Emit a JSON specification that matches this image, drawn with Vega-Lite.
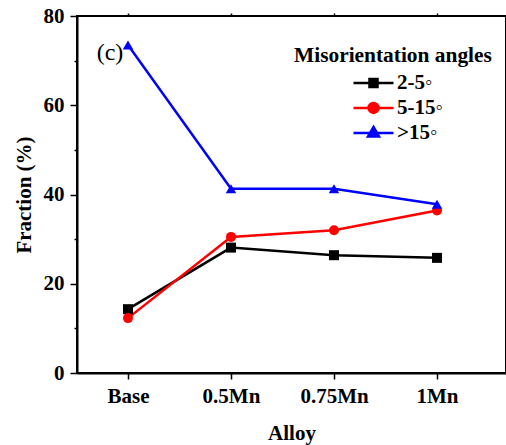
{
  "$schema": "https://vega.github.io/schema/vega-lite/v6.json",
  "width": 429,
  "height": 357,
  "autosize": {"type": "none"},
  "padding": {"left": 77, "top": 16, "right": 0, "bottom": 72},
  "background": "white",
  "config": {
    "font": "Liberation Serif",
    "view": {"stroke": "black", "strokeWidth": 2}
  },
  "datasets": {
    "fractions": [
      {"alloy": "Base", "angle": "2-5◦", "fraction": 14.3},
      {"alloy": "0.5Mn", "angle": "2-5◦", "fraction": 28.1},
      {"alloy": "0.75Mn", "angle": "2-5◦", "fraction": 26.4},
      {"alloy": "1Mn", "angle": "2-5◦", "fraction": 25.8},
      {"alloy": "Base", "angle": "5-15◦", "fraction": 12.3},
      {"alloy": "0.5Mn", "angle": "5-15◦", "fraction": 30.5},
      {"alloy": "0.75Mn", "angle": "5-15◦", "fraction": 32.0},
      {"alloy": "1Mn", "angle": "5-15◦", "fraction": 36.4},
      {"alloy": "Base", "angle": ">15◦", "fraction": 73.5},
      {"alloy": "0.5Mn", "angle": ">15◦", "fraction": 41.3},
      {"alloy": "0.75Mn", "angle": ">15◦", "fraction": 41.3},
      {"alloy": "1Mn", "angle": ">15◦", "fraction": 37.8}
    ],
    "panel": [
      {"alloy": "Base", "fraction": 71.7, "tag": "(c)"}
    ]
  },
  "data": {"name": "fractions"},
  "encoding": {
    "x": {
      "field": "alloy",
      "type": "nominal",
      "sort": ["Base", "0.5Mn", "0.75Mn", "1Mn"],
      "scale": {"type": "point", "padding": 0.5825, "align": 0.425},
      "axis": {
        "orient": "bottom",
        "title": "Alloy",
        "titleFont": "Liberation Serif",
        "titleFontSize": 21,
        "titleFontWeight": "bold",
        "titleColor": "black",
        "titlePadding": 16,
        "labelFont": "Liberation Serif",
        "labelFontSize": 21,
        "labelFontWeight": "bold",
        "labelColor": "black",
        "labelPadding": 6,
        "labelAngle": 0,
        "domainColor": "black",
        "domainWidth": 2,
        "tickColor": "black",
        "tickWidth": 1.5,
        "tickSize": 6,
        "grid": false
      }
    },
    "y": {
      "field": "fraction",
      "type": "quantitative",
      "scale": {"domain": [0, 80], "nice": false, "zero": true},
      "axis": {
        "title": "Fraction (%)",
        "titleFont": "Liberation Serif",
        "titleFontSize": 21,
        "titleFontWeight": "bold",
        "titleColor": "black",
        "titlePadding": 9,
        "values": [0, 10, 20, 30, 40, 50, 60, 70, 80],
        "labelExpr": "datum.value % 20 === 0 ? datum.label : ''",
        "labelFont": "Liberation Serif",
        "labelFontSize": 21,
        "labelFontWeight": "bold",
        "labelColor": "black",
        "labelPadding": 6,
        "domainColor": "black",
        "domainWidth": 2,
        "tickColor": "black",
        "tickWidth": 1.5,
        "tickSize": {"condition": {"test": "datum.value % 20 === 0", "value": 7}, "value": 3},
        "grid": false
      }
    },
    "color": {
      "field": "angle",
      "type": "nominal",
      "scale": {
        "domain": ["2-5◦", "5-15◦", ">15◦"],
        "range": ["#000000", "#ff0000", "#0000ff"]
      },
      "legend": {
        "orient": "none",
        "legendX": 217,
        "legendY": 29,
        "padding": 0,
        "title": "Misorientation angles",
        "titleLimit": 400,
        "titleFont": "Liberation Serif",
        "titleFontSize": 21.4,
        "titleFontWeight": "bold",
        "titleColor": "black",
        "titlePadding": 5,
        "labelFont": "Liberation Serif",
        "labelFontSize": 21,
        "labelFontWeight": "bold",
        "labelColor": "black",
        "labelLimit": 200,
        "symbolSize": 400,
        "symbolStrokeWidth": 2.5,
        "symbolOffset": 68,
        "labelOffset": 12,
        "rowPadding": 3,
        "encode": {
          "symbols": {
            "update": {
              "shape": {"signal": "datum.value === '2-5◦' ? 'M-2,0H2M-0.4,-0.4H0.4V0.4H-0.4Z' : datum.value === '5-15◦' ? 'M-2,0H2M0.5,0A0.5,0.5 0 1 1 -0.5,0A0.5,0.5 0 1 1 0.5,0Z' : 'M-2,0H2M0,-0.6L0.55,0.35H-0.55Z'"},
              "fill": {"signal": "scale('color', datum.value)"},
              "stroke": {"signal": "scale('color', datum.value)"},
              "strokeWidth": {"value": 2.5},
              "size": {"value": 400},
              "opacity": {"value": 1}
            }
          }
        }
      }
    }
  },
  "layer": [
    {
      "mark": {"type": "line", "strokeWidth": 2.5}
    },
    {
      "transform": [{"filter": "datum.angle === '2-5◦'"}],
      "mark": {"type": "point", "shape": "square", "filled": true, "opacity": 1, "size": 100},
      "encoding": {
        "x": {
          "field": "alloy",
          "type": "nominal",
          "sort": ["Base", "0.5Mn", "0.75Mn", "1Mn"],
          "axis": {
            "orient": "top",
            "title": null,
            "labels": false,
            "domain": false,
            "tickColor": "black",
            "tickWidth": 1.5,
            "tickSize": 3,
            "grid": false
          }
        }
      }
    },
    {
      "transform": [{"filter": "datum.angle === '5-15◦'"}],
      "mark": {"type": "point", "shape": "circle", "filled": true, "opacity": 1, "size": 100},
      "encoding": {
        "x": {"field": "alloy", "type": "nominal", "sort": ["Base", "0.5Mn", "0.75Mn", "1Mn"], "axis": null}
      }
    },
    {
      "transform": [{"filter": "datum.angle === '>15◦'"}],
      "mark": {"type": "point", "shape": "triangle-up", "filled": true, "opacity": 1, "size": 110},
      "encoding": {
        "x": {"field": "alloy", "type": "nominal", "sort": ["Base", "0.5Mn", "0.75Mn", "1Mn"], "axis": null}
      }
    },
    {
      "data": {"name": "panel"},
      "mark": {"type": "text", "font": "Liberation Serif", "fontSize": 24, "color": "black", "dx": -18, "baseline": "middle", "align": "center"},
      "encoding": {
        "x": {"field": "alloy", "type": "nominal", "axis": null},
        "y": {"field": "fraction", "type": "quantitative"},
        "text": {"field": "tag"},
        "color": null
      }
    }
  ],
  "resolve": {"axis": {"x": "independent"}}
}
